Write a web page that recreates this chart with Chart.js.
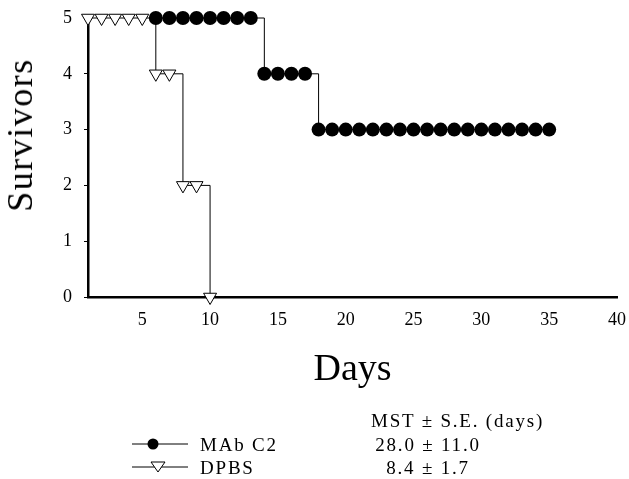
<!DOCTYPE html>
<html>
<head>
<meta charset="utf-8">
<script src="https://cdn.jsdelivr.net/npm/chart.js@4.4.0/dist/chart.umd.min.js"></script>
<style>
  body { margin: 0; background: #fff; }
  #wrap { position: relative; width: 629px; height: 479px; font-family: "Liberation Serif", "Times New Roman", serif; color: #000; }
  #chart { position: absolute; left: 0; top: 0; }
  .ylab { position: absolute; left: 20px; top: 135px; transform: translate(-50%, -50%) rotate(-90deg); font-size: 36px; letter-spacing: 1.5px; white-space: nowrap; line-height: 1; }
  .leg { position: absolute; font-size: 19px; letter-spacing: 1.8px; white-space: nowrap; line-height: 1; transform: translateY(-50%); }
</style>
</head>
<body>
<div id="wrap">
  <canvas id="chart" width="629" height="479"></canvas>
  <div class="ylab">Survivors</div>
  <div id="legend"></div>
</div>
<script>
// survival counts per day
const mabDays = [6, 7, 8, 9, 10, 11, 12, 13, 14, 15, 16, 17, 18, 19, 20, 21, 22, 23, 24, 25, 26, 27, 28, 29, 30, 31, 32, 33, 34, 35];
const mabSurvivors = [5, 5, 5, 5, 5, 5, 5, 5, 4, 4, 4, 4, 3, 3, 3, 3, 3, 3, 3, 3, 3, 3, 3, 3, 3, 3, 3, 3, 3, 3];
const dpbsDays = [1, 2, 3, 4, 5, 6, 7, 8, 9, 10];
const dpbsSurvivors = [5, 5, 5, 5, 5, 4, 4, 2, 2, 0];

const xTicks = [5, 10, 15, 20, 25, 30, 35, 40];
const yTicks = [0, 1, 2, 3, 4, 5];

const seriesNames = ['MAb C2', 'DPBS'];
const mstValues = ['28.0', '8.4'];
const seValues = ['11.0', '1.7'];

const serif = '"Liberation Serif", "Times New Roman", serif';

function points(days, vals) {
    return days.map((d, i) => ({ x: d, y: vals[i] }));
}

new Chart(document.getElementById('chart'), {
    type: 'line',
    data: {
        datasets: [{
            label: seriesNames[0],
            data: points(mabDays, mabSurvivors),
            stepped: true,
            borderColor: '#000',
            borderWidth: 1,
            pointStyle: 'circle',
            pointRadius: 7,
            pointBackgroundColor: '#000',
            pointBorderColor: '#000',
            pointBorderWidth: 0,
            clip: false
        }, {
            label: seriesNames[1],
            data: points(dpbsDays, dpbsSurvivors),
            stepped: true,
            borderColor: '#000',
            borderWidth: 1,
            pointStyle: 'triangle',
            rotation: 180,
            pointRadius: 7.5,
            pointBackgroundColor: '#fff',
            pointBorderColor: '#000',
            pointBorderWidth: 1,
            clip: false
        }]
    },
    options: {
        responsive: false,
        animation: false,
        layout: { padding: { left: 0, right: 0, top: 18, bottom: 0 } },
        plugins: { legend: { display: false }, tooltip: { enabled: false } },
        scales: {
            x: {
                type: 'linear',
                min: 1,
                max: 40,
                afterBuildTicks: s => { s.ticks = xTicks.map(v => ({ value: v })); },
                afterFit: s => { s.height = 182; s.paddingRight = 12; },
                grid: { drawOnChartArea: false, drawTicks: false },
                border: { color: '#000', width: 2.5 },
                ticks: { color: '#000', font: { family: serif, size: 18 }, padding: 12, maxRotation: 0, autoSkip: false },
                title: { display: true, text: 'Days', color: '#000', font: { family: serif, size: 38 }, padding: { top: 0, bottom: 86 } }
            },
            y: {
                min: 0,
                max: 5,
                afterBuildTicks: s => { s.ticks = yTicks.map(v => ({ value: v })); },
                afterFit: s => { s.width = 88; s.paddingTop = 4; },
                grid: { drawOnChartArea: false, tickLength: 4, color: '#000' },
                border: { color: '#000', width: 2.5 },
                ticks: { color: '#000', font: { family: serif, size: 18 }, padding: 12 }
            }
        }
    }
});

// legend table below the axis
const legend = document.getElementById('legend');
const rowY = [444, 467];
function addText(txt, x, y, center) {
    const el = document.createElement('div');
    el.className = 'leg';
    el.textContent = txt;
    el.style.top = y + 'px';
    el.style.left = x + 'px';
    if (center) el.style.transform = 'translate(-50%, -50%)';
    legend.appendChild(el);
}
addText('MST \u00b1 S.E. (days)', 371, 420, false);
seriesNames.forEach((name, i) => {
    const svg = document.createElementNS('http://www.w3.org/2000/svg', 'svg');
    svg.setAttribute('width', 56);
    svg.setAttribute('height', 16);
    svg.style.position = 'absolute';
    svg.style.left = '132px';
    svg.style.top = (rowY[i] - 8) + 'px';
    const mark = i === 0
        ? '<circle cx="21" cy="8" r="5.5" fill="#000"/>'
        : '<polygon points="19,3 33,3 26,13" fill="#fff" stroke="#000" stroke-width="1"/>';
    svg.innerHTML = '<line x1="0" y1="8" x2="56" y2="8" stroke="#000" stroke-width="1"/>' + mark;
    legend.appendChild(svg);
    addText(name, 200, rowY[i], false);
    addText(mstValues[i] + ' \u00b1 ' + seValues[i], 428, rowY[i], true);
});
</script>
</body>
</html>
